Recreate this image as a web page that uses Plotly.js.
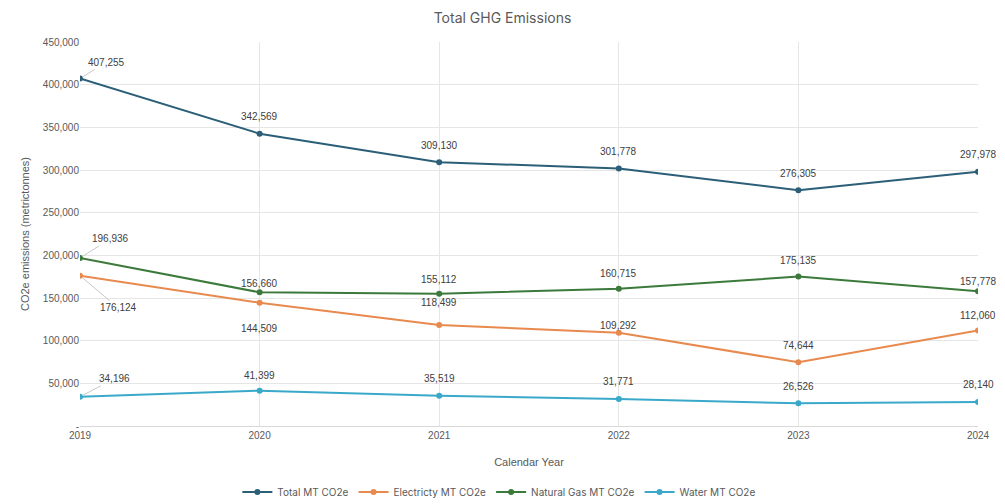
<!DOCTYPE html>
<html><head><meta charset="utf-8">
<script src="https://cdn.plot.ly/plotly-3.0.1.min.js"></script>
<style>body{margin:0;background:#fff}#c{width:1005px;height:504px}</style>
</head><body><div id="c"></div>
<script>
const years = [2019, 2020, 2021, 2022, 2023, 2024];
const totalMT = [407255, 342569, 309130, 301778, 276305, 297978];
const electricityMT = [176124, 144509, 118499, 109292, 74644, 112060];
const naturalGasMT = [196936, 156660, 155112, 160715, 175135, 157778];
const waterMT = [34196, 41399, 35519, 31771, 26526, 28140];
const seriesNames = ["Total MT CO2e", "Electricty MT CO2e", "Natural Gas MT CO2e", "Water MT CO2e"];
const yTickVals = [0, 50000, 100000, 150000, 200000, 250000, 300000, 350000, 400000, 450000];
const yTickText = ["-", "50,000", "100,000", "150,000", "200,000", "250,000", "300,000", "350,000", "400,000", "450,000"];

const colors = ["#2b5f78", "#e8894e", "#3b7a3a", "#3aa9c9"];
const series = [totalMT, electricityMT, naturalGasMT, waterMT];

const traces = series.map((s, i) => ({
  x: years, y: s, name: seriesNames[i], type: "scatter", mode: "lines+markers",
  line: {color: colors[i], width: 2}, marker: {color: colors[i], size: 6}
}));

// label offsets (pixels) per series per point
const offs = [
  [[26,-16],[0,-17],[0,-17],[0,-17],[0,-17],[0,-17]],
  [[38,32],[0,26],[0,-22],[0,-7],[0,-17],[0,-15]],
  [[30,-19],[0,-9],[0,-14],[0,-15],[0,-16],[0,-10]],
  [[34,-18],[0,-15],[0,-17],[0,-17],[0,-17],[0,-17]]
];
const annotations = [];
series.forEach((s, i) => s.forEach((v, j) => {
  const o = offs[i][j];
  const lead = (j === 0);
  annotations.push({
    x: years[j], y: v, xref: "x", yref: "y",
    text: v.toLocaleString("en-US"),
    showarrow: lead, arrowhead: 0, arrowwidth: 1, arrowcolor: "#c8c8c8",
    ax: o[0], ay: o[1], xshift: lead ? 0 : o[0], yshift: lead ? 0 : -o[1],
    standoff: 3,
    font: {family: "Liberation Sans, Arial, sans-serif", size: 10, color: "#404040"}
  });
}));

const layout = {
  width: 1005, height: 504,
  margin: {l: 80, r: 27, t: 42, b: 78, autoexpand: false},
  paper_bgcolor: "#fff", plot_bgcolor: "#fff",
  title: {text: "Total GHG Emissions", x: 0.5, xanchor: "center", y: 0.965, yanchor: "middle",
    font: {family: "Inter, Liberation Sans, sans-serif", size: 14, color: "#595959"}},
  xaxis: {
    range: [2019, 2024], tickvals: years, ticktext: years.map(String),
    showgrid: true, gridcolor: "#e6e6e6", zeroline: false, showline: true, linecolor: "#d9d9d9",
    ticks: "", tickfont: {family: "Liberation Sans, sans-serif", size: 10, color: "#595959"},
    title: {text: "Calendar Year", standoff: 18, font: {family: "Liberation Sans, sans-serif", size: 11, color: "#595959"}}
  },
  yaxis: {
    range: [0, 450000], tickvals: yTickVals, ticktext: yTickText,
    showgrid: true, gridcolor: "#e6e6e6", zeroline: false, showline: false,
    ticks: "", tickfont: {family: "Liberation Sans, sans-serif", size: 10, color: "#595959"},
    title: {text: "CO2e emissions (metrictonnes)", standoff: 10, font: {family: "Liberation Sans, sans-serif", size: 11, color: "#595959"}}
  },
  legend: {orientation: "h", x: 0.467, xanchor: "center", y: -0.172, yanchor: "middle",
    font: {family: "Inter, Liberation Sans, sans-serif", size: 10, color: "#595959"}, itemwidth: 30},
  annotations: annotations,
  showlegend: true
};
Plotly.newPlot("c", traces, layout, {staticPlot: true});
</script></body></html>
